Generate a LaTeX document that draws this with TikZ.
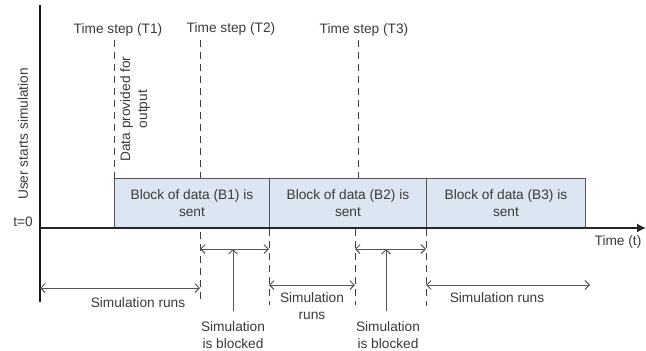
\documentclass[tikz,border=0pt]{standalone}
\usepackage{fontspec}
\setmainfont{Liberation Sans}
\usetikzlibrary{arrows.meta}
\definecolor{txt}{HTML}{3A3A3A}
\definecolor{blockfill}{HTML}{DCE6F2}
\definecolor{arr}{HTML}{555555}
\begin{document}
\begin{tikzpicture}[x=1pt,y=-1pt,
  every node/.style={font=\fontsize{13.7}{17}\selectfont, text=txt, inner sep=0pt},
  blockbox/.style={draw=arr, fill=blockfill, line width=0.9pt, minimum height=49pt, anchor=south west, align=center},
  dashline/.style={draw=black!75, line width=0.9pt, dash pattern=on 7pt off 5pt},
  spanarrow/.style={draw=arr, line width=0.9pt, {Straight Barb[length=4.5pt,width=9pt]}-{Straight Barb[length=4.5pt,width=9pt]}},
  uparrow/.style={draw=arr, line width=0.9pt, -{Straight Barb[length=4.5pt,width=9pt]}},
  lbl/.style={align=center}
]
\useasboundingbox (0,0) rectangle (646,351);

% coordinates of the time steps and boundaries
\coordinate (t1top) at (114,40);
\coordinate (t2top) at (200,40);
\coordinate (t2bot) at (200,302);
\coordinate (t3top) at (358,40);
\coordinate (t3mid) at (358,179);
\coordinate (t3axis) at (355,229);
\coordinate (t3bot) at (355,305);
\coordinate (b12top) at (269,229);
\coordinate (b12bot) at (269,305);
\coordinate (b23top) at (426,229);
\coordinate (b23bot) at (426,306);

% dashed lines
\draw[dashline] (t1top) -- (114,179);
\draw[dashline] (t2top) -- (t2bot);
\draw[dashline] (t3top) -- (t3mid);
\draw[dashline] (t3axis) -- (t3bot);
\draw[dashline] (b12top) -- (b12bot);
\draw[dashline] (b23top) -- (b23bot);

% blocks
\node[blockbox, minimum width=155pt] (B1) at (114,228) {Block of data (B1) is\\sent};
\node[blockbox, minimum width=157pt] (B2) at (269,228) {Block of data (B2) is\\sent};
\node[blockbox, minimum width=159pt] (B3) at (426,228) {Block of data (B3) is\\sent};

% axes
\coordinate (ytop) at (40,5);
\coordinate (ybot) at (40,302);
\coordinate (origin) at (40,228);
\coordinate (tend) at (646,228);
\draw[line width=2pt, black!90] (ytop) -- (ybot);
\draw[line width=1.5pt, black!85, -{Latex[length=9pt,width=9pt]}] (origin) -- (tend);

% labels on top
\node (T1) at (118,30) {Time step (T1)};
\node (T2) at (231,29) {Time step (T2)};
\node (T3) at (364,30) {Time step (T3)};
\node[rotate=90, lbl] (dp) at (135,109) {Data provided for\\output};
\node[rotate=90] (us) at (23,134) {User starts simulation};
\node (t0) at (23,222) {t=0};
\node (tt) at (618,242) {Time (t)};

% span arrows
\coordinate (r1a) at (40,288);
\coordinate (r1b) at (200,288);
\draw[spanarrow] (r1a) -- (r1b);
\node (R1) at (138,303) {Simulation runs};

\coordinate (k1a) at (200,249);
\coordinate (k1b) at (269,249);
\draw[spanarrow] (k1a) -- (k1b);
\coordinate (k1mid) at (233,249);
\coordinate (k1low) at (233,311);
\draw[uparrow] (k1low) -- (k1mid);
\node[lbl] (K1) at (233,335) {Simulation\\is blocked};

\coordinate (r2a) at (269,285);
\coordinate (r2b) at (355,285);
\draw[spanarrow] (r2a) -- (r2b);
\node[lbl] (R2) at (312,306) {Simulation\\runs};

\coordinate (k2a) at (355,249);
\coordinate (k2b) at (426,249);
\draw[spanarrow] (k2a) -- (k2b);
\coordinate (k2mid) at (386,249);
\coordinate (k2low) at (386,311);
\draw[uparrow] (k2low) -- (k2mid);
\node[lbl] (K2) at (388,335) {Simulation\\is blocked};

\coordinate (r3a) at (426,285);
\coordinate (r3b) at (590,285);
\draw[spanarrow] (r3a) -- (r3b);
\node (R3) at (497,298) {Simulation runs};
\end{tikzpicture}
\end{document}
